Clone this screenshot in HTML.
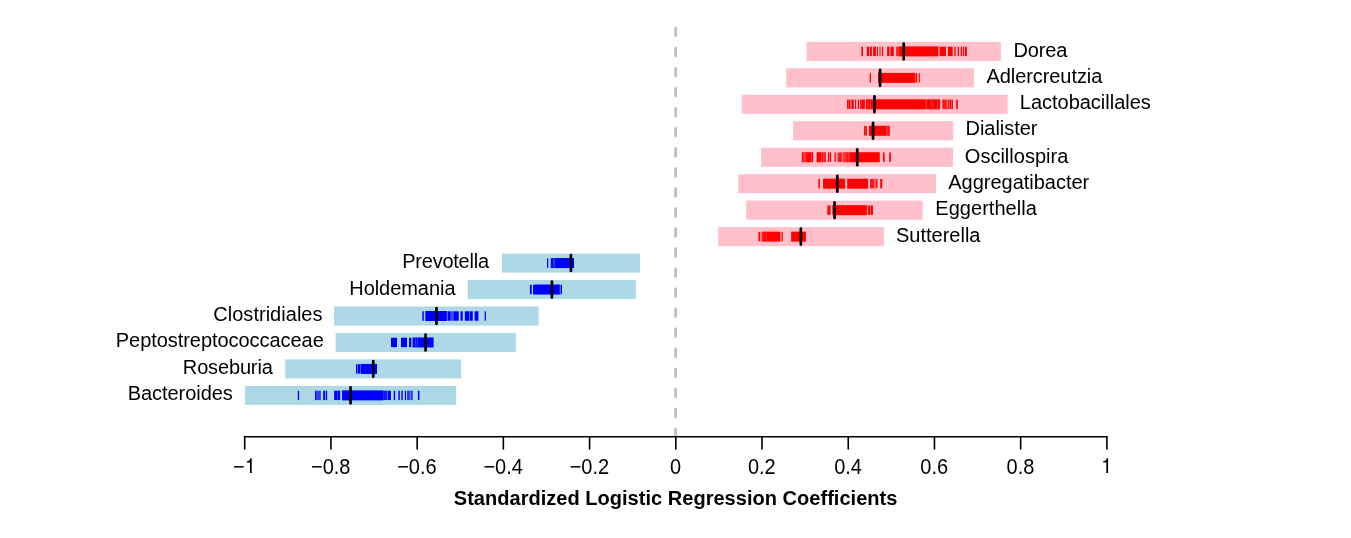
<!DOCTYPE html>
<html><head><meta charset="utf-8"><title>chart</title>
<style>
html,body{margin:0;padding:0;background:#fff;}
body{width:1351px;height:538px;overflow:hidden;}
svg{display:block;will-change:transform;}
text{font-family:"Liberation Sans",sans-serif;font-size:20px;fill:#000;}
.t{font-weight:bold;}
</style></head><body>
<svg width="1351" height="538" viewBox="0 0 1351 538">
<rect width="1351" height="538" fill="#ffffff"/>

<g fill="#bebebe">
<rect x="674.22" y="26.80" width="2.75" height="10.40" rx="1.37"/>
<rect x="674.22" y="46.85" width="2.75" height="10.40" rx="1.37"/>
<rect x="674.22" y="66.90" width="2.75" height="10.40" rx="1.37"/>
<rect x="674.22" y="86.95" width="2.75" height="10.40" rx="1.37"/>
<rect x="674.22" y="107.00" width="2.75" height="10.40" rx="1.37"/>
<rect x="674.22" y="127.05" width="2.75" height="10.40" rx="1.37"/>
<rect x="674.22" y="147.10" width="2.75" height="10.40" rx="1.37"/>
<rect x="674.22" y="167.15" width="2.75" height="10.40" rx="1.37"/>
<rect x="674.22" y="187.20" width="2.75" height="10.40" rx="1.37"/>
<rect x="674.22" y="207.25" width="2.75" height="10.40" rx="1.37"/>
<rect x="674.22" y="227.30" width="2.75" height="10.40" rx="1.37"/>
<rect x="674.22" y="247.35" width="2.75" height="10.40" rx="1.37"/>
<rect x="674.22" y="267.40" width="2.75" height="10.40" rx="1.37"/>
<rect x="674.22" y="287.45" width="2.75" height="10.40" rx="1.37"/>
<rect x="674.22" y="307.50" width="2.75" height="10.40" rx="1.37"/>
<rect x="674.22" y="327.55" width="2.75" height="10.40" rx="1.37"/>
<rect x="674.22" y="347.60" width="2.75" height="10.40" rx="1.37"/>
<rect x="674.22" y="367.65" width="2.75" height="10.40" rx="1.37"/>
<rect x="674.22" y="387.70" width="2.75" height="10.40" rx="1.37"/>
<rect x="674.22" y="407.75" width="2.75" height="10.40" rx="1.37"/>
<rect x="674.22" y="427.80" width="2.75" height="9.20" rx="1.37"/>
</g>
<rect x="806.60" y="41.88" width="194.30" height="19.05" fill="#ffc0cb"/>
<g fill="#ff0000">
<rect x="861.40" y="46.70" width="1.60" height="9.40" fill-opacity="1"/>
<rect x="866.80" y="46.70" width="2.20" height="9.40" fill-opacity="1"/>
<rect x="869.70" y="46.70" width="2.15" height="9.40" fill-opacity="1"/>
<rect x="873.10" y="46.70" width="2.80" height="9.40" fill-opacity="1"/>
<rect x="876.90" y="46.70" width="1.10" height="9.40" fill-opacity="1"/>
<rect x="879.10" y="46.70" width="1.80" height="9.40" fill-opacity="0.6"/>
<rect x="881.90" y="46.70" width="1.30" height="9.40" fill-opacity="1"/>
<rect x="887.10" y="46.70" width="2.00" height="9.40" fill-opacity="1"/>
<rect x="889.10" y="46.70" width="1.60" height="9.40" fill-opacity="0.5"/>
<rect x="890.70" y="46.70" width="3.10" height="9.40" fill-opacity="1"/>
<rect x="896.00" y="46.70" width="2.30" height="9.40" fill-opacity="0.8"/>
<rect x="898.30" y="46.40" width="39.90" height="10.00" fill-opacity="1"/>
<rect x="938.20" y="46.70" width="1.80" height="9.40" fill-opacity="0.45"/>
<rect x="940.00" y="46.70" width="5.90" height="9.40" fill-opacity="1"/>
<rect x="947.90" y="46.70" width="4.80" height="9.40" fill-opacity="1"/>
<rect x="954.20" y="46.70" width="1.60" height="9.40" fill-opacity="0.9"/>
<rect x="957.60" y="46.70" width="1.37" height="9.40" fill-opacity="1"/>
<rect x="960.70" y="46.70" width="1.30" height="9.40" fill-opacity="1"/>
<rect x="962.85" y="46.70" width="1.15" height="9.40" fill-opacity="1"/>
<rect x="964.75" y="46.70" width="2.15" height="9.40" fill-opacity="1"/>
</g>
<line x1="903.70" x2="903.70" y1="43.48" y2="59.32" stroke="#000" stroke-width="2.7" stroke-linecap="round"/>
<text x="1013.50" y="56.93" textLength="53.97" lengthAdjust="spacing">Dorea</text>
<rect x="786.20" y="68.33" width="187.70" height="19.05" fill="#ffc0cb"/>
<g fill="#ff0000">
<rect x="869.65" y="73.16" width="1.40" height="9.40" fill-opacity="1"/>
<rect x="878.00" y="72.86" width="36.95" height="10.00" fill-opacity="1"/>
<rect x="914.95" y="73.16" width="0.90" height="9.40" fill-opacity="0.5"/>
<rect x="915.85" y="73.16" width="1.40" height="9.40" fill-opacity="1"/>
<rect x="918.75" y="73.16" width="1.15" height="9.40" fill-opacity="1"/>
</g>
<line x1="880.05" x2="880.05" y1="69.93" y2="85.79" stroke="#000" stroke-width="2.7" stroke-linecap="round"/>
<text x="986.50" y="83.20" textLength="115.82" lengthAdjust="spacing">Adlercreutzia</text>
<rect x="741.80" y="94.79" width="265.80" height="19.05" fill="#ffc0cb"/>
<g fill="#ff0000">
<rect x="847.00" y="99.62" width="3.00" height="9.40" fill-opacity="0.95"/>
<rect x="850.00" y="99.62" width="1.50" height="9.40" fill-opacity="0.45"/>
<rect x="851.50" y="99.62" width="2.30" height="9.40" fill-opacity="1"/>
<rect x="854.95" y="99.62" width="1.20" height="9.40" fill-opacity="1"/>
<rect x="857.80" y="99.62" width="1.30" height="9.40" fill-opacity="1"/>
<rect x="860.10" y="99.62" width="4.80" height="9.40" fill-opacity="1"/>
<rect x="864.90" y="99.62" width="1.10" height="9.40" fill-opacity="0.3"/>
<rect x="866.00" y="99.32" width="59.90" height="10.00" fill-opacity="1"/>
<rect x="925.90" y="99.62" width="1.00" height="9.40" fill-opacity="0.75"/>
<rect x="926.90" y="99.32" width="13.20" height="10.00" fill-opacity="1"/>
<rect x="942.25" y="99.62" width="4.65" height="9.40" fill-opacity="0.88"/>
<rect x="946.90" y="99.62" width="1.00" height="9.40" fill-opacity="0.4"/>
<rect x="947.90" y="99.62" width="5.05" height="9.40" fill-opacity="1"/>
<rect x="955.96" y="99.62" width="2.01" height="9.40" fill-opacity="0.85"/>
</g>
<g fill="#ffc0cb">
<rect x="848.20" y="99.57" width="0.6" height="9.50" fill-opacity="0.42"/>
<rect x="861.60" y="99.57" width="0.6" height="9.50" fill-opacity="0.35"/>
<rect x="867.60" y="99.57" width="0.6" height="9.50" fill-opacity="0.42"/>
<rect x="869.90" y="99.57" width="0.6" height="9.50" fill-opacity="0.42"/>
<rect x="930.90" y="99.57" width="0.6" height="9.50" fill-opacity="0.28"/>
<rect x="932.70" y="99.57" width="0.6" height="9.50" fill-opacity="0.42"/>
<rect x="937.10" y="99.57" width="0.6" height="9.50" fill-opacity="0.42"/>
<rect x="949.40" y="99.57" width="0.6" height="9.50" fill-opacity="0.70"/>
<rect x="951.00" y="99.57" width="0.6" height="9.50" fill-opacity="0.70"/>
</g>
<line x1="874.45" x2="874.45" y1="96.39" y2="112.25" stroke="#000" stroke-width="2.7" stroke-linecap="round"/>
<text x="1019.80" y="108.62" textLength="130.99" lengthAdjust="spacing">Lactobacillales</text>
<rect x="793.10" y="121.25" width="160.10" height="19.05" fill="#ffc0cb"/>
<g fill="#ff0000">
<rect x="864.05" y="126.08" width="2.90" height="9.40" fill-opacity="1"/>
<rect x="868.80" y="125.78" width="21.00" height="10.00" fill-opacity="1"/>
</g>
<g fill="#ffc0cb">
<rect x="865.15" y="126.03" width="0.6" height="9.50" fill-opacity="0.42"/>
<rect x="886.15" y="126.03" width="0.6" height="9.50" fill-opacity="0.49"/>
<rect x="887.65" y="126.03" width="0.6" height="9.50" fill-opacity="0.42"/>
</g>
<line x1="873.05" x2="873.05" y1="122.85" y2="138.71" stroke="#000" stroke-width="2.7" stroke-linecap="round"/>
<text x="965.50" y="135.33" textLength="72.04" lengthAdjust="spacing">Dialister</text>
<rect x="761.10" y="147.72" width="191.90" height="19.05" fill="#ffc0cb"/>
<g fill="#ff0000">
<rect x="801.80" y="152.24" width="11.30" height="10.00" fill-opacity="1"/>
<rect x="816.60" y="152.24" width="9.30" height="10.00" fill-opacity="1"/>
<rect x="827.90" y="152.54" width="3.30" height="9.40" fill-opacity="1"/>
<rect x="834.50" y="152.54" width="1.35" height="9.40" fill-opacity="1"/>
<rect x="837.50" y="152.54" width="4.30" height="9.40" fill-opacity="1"/>
<rect x="841.80" y="152.54" width="1.50" height="9.40" fill-opacity="0.35"/>
<rect x="843.30" y="152.24" width="36.50" height="10.00" fill-opacity="1"/>
<rect x="883.00" y="152.54" width="1.65" height="9.40" fill-opacity="1"/>
<rect x="889.20" y="152.54" width="1.70" height="9.40" fill-opacity="1"/>
</g>
<g fill="#ffc0cb">
<rect x="803.00" y="152.49" width="0.6" height="9.50" fill-opacity="0.42"/>
<rect x="804.25" y="152.49" width="0.6" height="9.50" fill-opacity="0.42"/>
<rect x="804.90" y="152.49" width="0.6" height="9.50" fill-opacity="0.56"/>
<rect x="811.30" y="152.49" width="0.6" height="9.50" fill-opacity="0.42"/>
<rect x="821.50" y="152.49" width="0.6" height="9.50" fill-opacity="0.84"/>
<rect x="823.40" y="152.49" width="0.6" height="9.50" fill-opacity="0.42"/>
<rect x="824.60" y="152.49" width="0.6" height="9.50" fill-opacity="0.42"/>
<rect x="829.00" y="152.49" width="0.6" height="9.50" fill-opacity="0.84"/>
<rect x="837.90" y="152.49" width="0.6" height="9.50" fill-opacity="0.42"/>
<rect x="839.70" y="152.49" width="0.6" height="9.50" fill-opacity="0.42"/>
<rect x="844.00" y="152.49" width="0.6" height="9.50" fill-opacity="0.49"/>
<rect x="845.30" y="152.49" width="0.6" height="9.50" fill-opacity="0.42"/>
<rect x="846.80" y="152.49" width="0.6" height="9.50" fill-opacity="0.42"/>
<rect x="848.00" y="152.49" width="0.6" height="9.50" fill-opacity="0.42"/>
<rect x="849.50" y="152.49" width="0.6" height="9.50" fill-opacity="0.35"/>
</g>
<line x1="857.25" x2="857.25" y1="149.31" y2="165.17" stroke="#000" stroke-width="2.7" stroke-linecap="round"/>
<text x="964.80" y="162.64" textLength="103.56" lengthAdjust="spacing">Oscillospira</text>
<rect x="738.20" y="174.18" width="197.90" height="19.05" fill="#ffc0cb"/>
<g fill="#ff0000">
<rect x="818.30" y="179.00" width="1.60" height="9.40" fill-opacity="1"/>
<rect x="823.05" y="178.70" width="22.05" height="10.00" fill-opacity="1"/>
<rect x="847.20" y="178.70" width="20.90" height="10.00" fill-opacity="1"/>
<rect x="870.10" y="179.00" width="3.80" height="9.40" fill-opacity="0.92"/>
<rect x="873.90" y="179.00" width="1.50" height="9.40" fill-opacity="0.5"/>
<rect x="875.40" y="179.00" width="2.25" height="9.40" fill-opacity="0.85"/>
<rect x="880.20" y="179.00" width="2.00" height="9.40" fill-opacity="1"/>
</g>
<line x1="837.30" x2="837.30" y1="175.78" y2="191.63" stroke="#000" stroke-width="2.7" stroke-linecap="round"/>
<text x="948.30" y="188.80" textLength="140.90" lengthAdjust="spacing">Aggregatibacter</text>
<rect x="746.20" y="200.63" width="176.50" height="19.05" fill="#ffc0cb"/>
<g fill="#ff0000">
<rect x="827.30" y="205.46" width="3.35" height="9.40" fill-opacity="0.95"/>
<rect x="832.30" y="205.16" width="34.50" height="10.00" fill-opacity="1"/>
<rect x="866.80" y="205.46" width="1.25" height="9.40" fill-opacity="0.3"/>
<rect x="868.05" y="205.46" width="2.00" height="9.40" fill-opacity="1"/>
<rect x="870.05" y="205.46" width="0.75" height="9.40" fill-opacity="0.5"/>
<rect x="870.80" y="205.46" width="2.15" height="9.40" fill-opacity="1"/>
</g>
<line x1="834.55" x2="834.55" y1="202.23" y2="218.09" stroke="#000" stroke-width="2.7" stroke-linecap="round"/>
<text x="935.30" y="214.81" textLength="101.58" lengthAdjust="spacing">Eggerthella</text>
<rect x="718.20" y="227.09" width="165.80" height="19.05" fill="#ffc0cb"/>
<g fill="#ff0000">
<rect x="758.50" y="231.92" width="1.50" height="9.40" fill-opacity="1"/>
<rect x="760.00" y="231.92" width="1.80" height="9.40" fill-opacity="0.4"/>
<rect x="761.80" y="231.62" width="18.25" height="10.00" fill-opacity="1"/>
<rect x="780.05" y="231.92" width="1.65" height="9.40" fill-opacity="0.4"/>
<rect x="781.70" y="231.92" width="1.10" height="9.40" fill-opacity="1"/>
<rect x="791.15" y="231.62" width="14.75" height="10.00" fill-opacity="1"/>
</g>
<g fill="#ffc0cb">
<rect x="762.75" y="231.87" width="0.6" height="9.50" fill-opacity="0.42"/>
<rect x="766.00" y="231.87" width="0.6" height="9.50" fill-opacity="0.35"/>
</g>
<line x1="800.85" x2="800.85" y1="228.69" y2="244.55" stroke="#000" stroke-width="2.7" stroke-linecap="round"/>
<text x="896.00" y="241.97" textLength="84.49" lengthAdjust="spacing">Sutterella</text>
<rect x="502.00" y="253.55" width="138.10" height="19.05" fill="#add8e6"/>
<g fill="#0000ff">
<rect x="547.00" y="258.38" width="1.25" height="9.40" fill-opacity="1"/>
<rect x="550.75" y="258.08" width="23.30" height="10.00" fill-opacity="1"/>
</g>
<g fill="#add8e6">
<rect x="552.90" y="258.33" width="0.6" height="9.50" fill-opacity="0.42"/>
<rect x="554.10" y="258.33" width="0.6" height="9.50" fill-opacity="0.42"/>
</g>
<line x1="570.93" x2="570.93" y1="255.15" y2="271.00" stroke="#000" stroke-width="2.7" stroke-linecap="round"/>
<text x="402.26" y="267.98" textLength="86.74" lengthAdjust="spacing">Prevotella</text>
<rect x="467.70" y="280.02" width="168.10" height="19.05" fill="#add8e6"/>
<g fill="#0000ff">
<rect x="529.90" y="284.84" width="1.85" height="9.40" fill-opacity="1"/>
<rect x="533.05" y="284.54" width="26.75" height="10.00" fill-opacity="1"/>
<rect x="559.80" y="284.84" width="1.00" height="9.40" fill-opacity="0.5"/>
<rect x="560.80" y="284.84" width="1.15" height="9.40" fill-opacity="1"/>
</g>
<line x1="551.90" x2="551.90" y1="281.62" y2="297.46" stroke="#000" stroke-width="2.7" stroke-linecap="round"/>
<text x="349.27" y="294.64" textLength="106.23" lengthAdjust="spacing">Holdemania</text>
<rect x="334.00" y="306.48" width="204.60" height="19.05" fill="#add8e6"/>
<g fill="#0000ff">
<rect x="422.30" y="311.30" width="1.50" height="9.40" fill-opacity="1"/>
<rect x="425.30" y="311.00" width="21.60" height="10.00" fill-opacity="1"/>
<rect x="446.90" y="311.30" width="1.00" height="9.40" fill-opacity="0.5"/>
<rect x="447.90" y="311.30" width="2.80" height="9.40" fill-opacity="1"/>
<rect x="450.70" y="311.30" width="3.00" height="9.40" fill-opacity="0.85"/>
<rect x="453.70" y="311.30" width="5.05" height="9.40" fill-opacity="1"/>
<rect x="460.50" y="311.30" width="2.30" height="9.40" fill-opacity="1"/>
<rect x="464.80" y="311.30" width="4.30" height="9.40" fill-opacity="1"/>
<rect x="469.10" y="311.30" width="0.70" height="9.40" fill-opacity="0.5"/>
<rect x="469.80" y="311.30" width="3.00" height="9.40" fill-opacity="1"/>
<rect x="474.60" y="311.30" width="3.80" height="9.40" fill-opacity="1"/>
<rect x="484.70" y="311.30" width="1.20" height="9.40" fill-opacity="1"/>
</g>
<g fill="#add8e6">
<rect x="451.30" y="311.25" width="0.6" height="9.50" fill-opacity="0.42"/>
<rect x="452.50" y="311.25" width="0.6" height="9.50" fill-opacity="0.42"/>
</g>
<line x1="436.45" x2="436.45" y1="308.08" y2="323.92" stroke="#000" stroke-width="2.7" stroke-linecap="round"/>
<text x="213.27" y="320.80" textLength="109.23" lengthAdjust="spacing">Clostridiales</text>
<rect x="335.60" y="332.94" width="180.20" height="19.05" fill="#add8e6"/>
<g fill="#0000ff">
<rect x="391.00" y="337.76" width="6.00" height="9.40" fill-opacity="1"/>
<rect x="401.00" y="337.76" width="6.00" height="9.40" fill-opacity="1"/>
<rect x="409.05" y="337.76" width="2.00" height="9.40" fill-opacity="1"/>
<rect x="411.05" y="337.76" width="1.85" height="9.40" fill-opacity="0.35"/>
<rect x="412.90" y="337.46" width="20.70" height="10.00" fill-opacity="1"/>
</g>
<g fill="#add8e6">
<rect x="415.15" y="337.71" width="0.6" height="9.50" fill-opacity="0.42"/>
<rect x="416.90" y="337.71" width="0.6" height="9.50" fill-opacity="0.42"/>
</g>
<line x1="425.55" x2="425.55" y1="334.54" y2="350.38" stroke="#000" stroke-width="2.7" stroke-linecap="round"/>
<text x="115.78" y="347.21" textLength="208.02" lengthAdjust="spacing">Peptostreptococcaceae</text>
<rect x="285.20" y="359.39" width="175.90" height="19.05" fill="#add8e6"/>
<g fill="#0000ff">
<rect x="356.00" y="364.22" width="1.10" height="9.40" fill-opacity="1"/>
<rect x="357.10" y="364.22" width="0.75" height="9.40" fill-opacity="0.55"/>
<rect x="357.85" y="364.22" width="2.25" height="9.40" fill-opacity="1"/>
<rect x="360.10" y="364.22" width="0.80" height="9.40" fill-opacity="0.6"/>
<rect x="360.90" y="363.92" width="16.10" height="10.00" fill-opacity="1"/>
</g>
<line x1="373.25" x2="373.25" y1="361.00" y2="376.84" stroke="#000" stroke-width="2.7" stroke-linecap="round"/>
<text x="182.84" y="373.62" textLength="89.96" lengthAdjust="spacing">Roseburia</text>
<rect x="245.00" y="385.86" width="211.20" height="19.05" fill="#add8e6"/>
<g fill="#0000ff">
<rect x="297.80" y="390.68" width="1.30" height="9.40" fill-opacity="1"/>
<rect x="315.00" y="390.68" width="1.40" height="9.40" fill-opacity="1"/>
<rect x="316.40" y="390.68" width="4.50" height="9.40" fill-opacity="0.7"/>
<rect x="323.20" y="390.68" width="1.90" height="9.40" fill-opacity="1"/>
<rect x="325.80" y="390.68" width="1.30" height="9.40" fill-opacity="1"/>
<rect x="334.15" y="390.68" width="6.05" height="9.40" fill-opacity="1"/>
<rect x="342.05" y="390.38" width="41.15" height="10.00" fill-opacity="1"/>
<rect x="383.20" y="390.68" width="3.70" height="9.40" fill-opacity="0.92"/>
<rect x="386.90" y="390.68" width="1.00" height="9.40" fill-opacity="0.6"/>
<rect x="387.90" y="390.68" width="3.05" height="9.40" fill-opacity="1"/>
<rect x="393.70" y="390.68" width="1.45" height="9.40" fill-opacity="1"/>
<rect x="398.25" y="390.68" width="1.65" height="9.40" fill-opacity="0.9"/>
<rect x="401.20" y="390.68" width="1.70" height="9.40" fill-opacity="0.85"/>
<rect x="404.80" y="390.68" width="1.25" height="9.40" fill-opacity="1"/>
<rect x="407.05" y="390.68" width="2.80" height="9.40" fill-opacity="0.75"/>
<rect x="409.85" y="390.68" width="0.75" height="9.40" fill-opacity="0.45"/>
<rect x="410.60" y="390.68" width="2.25" height="9.40" fill-opacity="0.7"/>
<rect x="417.90" y="390.68" width="1.50" height="9.40" fill-opacity="1"/>
</g>
<g fill="#add8e6">
<rect x="337.00" y="390.63" width="0.6" height="9.50" fill-opacity="0.42"/>
</g>
<line x1="350.55" x2="350.55" y1="387.46" y2="403.30" stroke="#000" stroke-width="2.7" stroke-linecap="round"/>
<text x="127.68" y="400.48" textLength="105.12" lengthAdjust="spacing">Bacteroides</text>
<g stroke="#000" stroke-width="1.6" fill="none" stroke-linecap="round">
<line x1="244.70" x2="1106.90" y1="436.8" y2="436.8"/>
<line x1="244.70" x2="244.70" y1="436.8" y2="448.9"/>
<line x1="330.92" x2="330.92" y1="436.8" y2="448.9"/>
<line x1="417.14" x2="417.14" y1="436.8" y2="448.9"/>
<line x1="503.36" x2="503.36" y1="436.8" y2="448.9"/>
<line x1="589.58" x2="589.58" y1="436.8" y2="448.9"/>
<line x1="675.80" x2="675.80" y1="436.8" y2="448.9"/>
<line x1="762.02" x2="762.02" y1="436.8" y2="448.9"/>
<line x1="848.24" x2="848.24" y1="436.8" y2="448.9"/>
<line x1="934.46" x2="934.46" y1="436.8" y2="448.9"/>
<line x1="1020.68" x2="1020.68" y1="436.8" y2="448.9"/>
<line x1="1106.90" x2="1106.90" y1="436.8" y2="448.9"/>
</g>
<g transform="translate(0,473.6) scale(1,1.075) translate(0,-473.6)">
<text x="330.72" y="473.6" text-anchor="middle">−0.8</text>
<text x="416.94" y="473.6" text-anchor="middle">−0.6</text>
<text x="503.16" y="473.6" text-anchor="middle">−0.4</text>
<text x="589.38" y="473.6" text-anchor="middle">−0.2</text>
<text x="675.60" y="473.6" text-anchor="middle">0</text>
<text x="761.82" y="473.6" text-anchor="middle">0.2</text>
<text x="848.04" y="473.6" text-anchor="middle">0.4</text>
<text x="934.26" y="473.6" text-anchor="middle">0.6</text>
<text x="1020.48" y="473.6" text-anchor="middle">0.8</text>
<text x="233.10" y="473.6">−</text>
</g>
<path d="M249.96,473.00 L249.96,462.46 L246.82,462.46 L246.82,461.14 C248.68,460.99 250.02,460.16 250.50,458.20 L251.72,458.20 L251.72,473.00 Z" fill="#000"/>
<path d="M1106.32,473.00 L1106.32,462.46 L1103.18,462.46 L1103.18,461.14 C1105.04,460.99 1106.38,460.16 1106.86,458.20 L1108.08,458.20 L1108.08,473.00 Z" fill="#000"/>
<text class="t" x="453.80" y="504.9" textLength="443.56" lengthAdjust="spacing">Standardized Logistic Regression Coefficients</text>
</svg></body></html>
